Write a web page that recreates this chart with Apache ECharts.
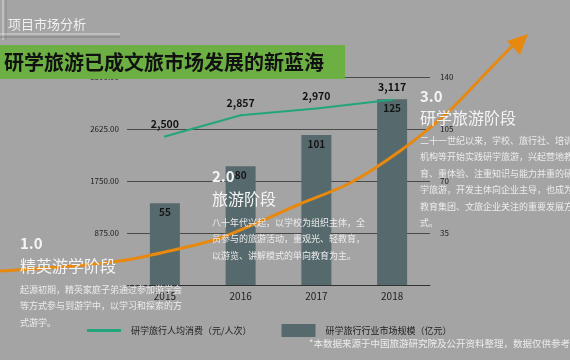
<!DOCTYPE html>
<html>
<head>
<meta charset="utf-8">
<script src="https://cdn.jsdelivr.net/npm/echarts@6/dist/echarts.min.js"></script>
<style>
html,body{margin:0;padding:0;background:#a4a4a4;}
#c{width:570px;height:360px;}
</style>
</head>
<body>
<div id="c"></div>
<script>
const years = ['2015', '2016', '2017', '2018'];
const spendPerTrip = [2500, 2857, 2970, 3117];
const marketScale = [55, 80, 101, 125];
const seriesNames = ['研学旅行人均消费（元/人次）', '研学旅行行业市场规模（亿元）'];
const pageTitle = '项目市场分析';
const bannerTitle = '研学旅游已成文旅市场发展的新蓝海';
const stages = [
  { num: '1.0', name: '精英游学阶段', desc: '起源初期，精英家庭子弟通过参加游学会\n等方式参与到游学中，以学习和探索的方\n式游学。' },
  { num: '2.0', name: '旅游阶段', desc: '八十年代兴起，以学校为组织主体，全\n员参与的旅游活动，重观光、轻教育，\n以游览、讲解模式的单向教育为主。' },
  { num: '3.0', name: '研学旅游阶段', desc: '二十一世纪以来，学校、旅行社、培训\n机构等开始实践研学旅游，兴起营地教\n育、重体验、注重知识与能力并重的研\n学旅游，开发主体向企业主导，也成为\n教育集团、文旅企业关注的重要发展方\n式。' }
];
const footnote = '*本数据来源于中国旅游研究院及公开资料整理，数据仅供参考';

const chart = echarts.init(document.getElementById('c'));
const CJK = '"Noto Sans CJK SC", "Noto Sans", sans-serif';
const white = '#f4f4f4';

const curvePts = [[0,271],[60,267],[120,261],[165,252],[220,238],[300,204],[350,183],[400,151],[447,113],[487,72],[516,42]];

const stagePos = [
  { x: 20, numY: 243, nameY: 266, descY: 281 },
  { x: 212, numY: 176, nameY: 199, descY: 214 },
  { x: 420, numY: 96, nameY: 118, descY: 132 }
];
const stageGraphics = [];
stages.forEach((s, i) => {
  const p = stagePos[i];
  stageGraphics.push({ type: 'text', x: p.x, y: p.numY, z: 110, style: { text: s.num, fill: white, font: 'bold 15px ' + CJK, textVerticalAlign: 'middle' } });
  stageGraphics.push({ type: 'text', x: p.x, y: p.nameY, z: 110, style: { text: s.name, fill: white, font: '16px ' + CJK, textVerticalAlign: 'middle' } });
  stageGraphics.push({ type: 'text', x: p.x, y: p.descY, z: 110, style: { text: s.desc, fill: '#ececec', font: '9px ' + CJK, lineHeight: 16.5 } });
});

const option = {
  backgroundColor: '#a4a4a4',
  textStyle: { fontFamily: CJK },
  grid: { left: 127, right: 140, top: 77, bottom: 75 },
  legend: {
    left: 82, top: 319, itemWidth: 34, itemHeight: 13, itemGap: 30,
    textStyle: { color: '#222', fontSize: 9, padding: [0, 0, 0, 5] },
    data: [
      { name: seriesNames[0], icon: 'path://M0,0L34,0L34,3L0,3Z' },
      { name: seriesNames[1], icon: 'rect' }
    ]
  },
  xAxis: {
    type: 'category', data: years,
    axisLine: { lineStyle: { color: '#333', width: 1 } },
    axisTick: { show: false },
    axisLabel: { color: '#222', fontSize: 10, margin: 6 }
  },
  yAxis: [
    {
      type: 'value', min: 0, max: 3500, interval: 875,
      axisLine: { show: false }, axisTick: { show: false },
      axisLabel: { color: '#222', fontSize: 8, margin: 8, showMinLabel: false, formatter: v => v.toFixed(2) },
      splitLine: { lineStyle: { color: '#4a4a4a', width: 1 } }
    },
    {
      type: 'value', min: 0, max: 140, interval: 35,
      axisLine: { show: false }, axisTick: { show: false },
      axisLabel: { color: '#222', fontSize: 8, margin: 10, showMinLabel: false },
      splitLine: { show: false }
    }
  ],
  series: [
    {
      name: seriesNames[1], type: 'bar', yAxisIndex: 1, data: marketScale, barWidth: 30,
      itemStyle: { color: '#56696d' },
      label: { show: true, position: 'insideTop', distance: 4, color: '#151515', fontSize: 10, fontWeight: 'bold' },
      z: 2
    },
    {
      name: seriesNames[0], type: 'line', yAxisIndex: 0, data: spendPerTrip,
      symbol: 'circle', symbolSize: 2, showSymbol: true,
      lineStyle: { color: '#22a57c', width: 2 }, itemStyle: { color: '#22a57c' },
      label: { show: true, position: 'top', distance: 6, color: '#111', fontSize: 10.5, fontWeight: 'bold', formatter: p => p.value.toLocaleString('en-US') },
      z: 3
    }
  ],
  graphic: [
    { type: 'line', z: 100, shape: { x1: 3, y1: 0, x2: 3, y2: 40 }, style: { stroke: '#d8d8d8', lineWidth: 1 } },
    { type: 'line', z: 100, shape: { x1: 6, y1: 0, x2: 6, y2: 40 }, style: { stroke: '#8c8c8c', lineWidth: 1 } },
    { type: 'line', z: 100, shape: { x1: 0, y1: 34, x2: 120, y2: 34 }, style: { stroke: '#d8d8d8', lineWidth: 1 } },
    { type: 'line', z: 100, shape: { x1: 0, y1: 37, x2: 120, y2: 37 }, style: { stroke: '#808080', lineWidth: 1 } },
    { type: 'text', x: 8, y: 24, z: 100, style: { text: pageTitle, fill: '#f0f0f0', font: '13px ' + CJK, textVerticalAlign: 'middle' } },
    { type: 'rect', z: 100, shape: { x: 0, y: 45, width: 345, height: 34 }, style: { fill: '#6cb044' } },
    { type: 'text', x: 4, y: 62, z: 101, style: { text: bannerTitle, fill: '#111', font: 'bold 20px ' + CJK, textVerticalAlign: 'middle' } },
    { type: 'polyline', z: 105, shape: { points: curvePts, smooth: 0.3 }, style: { stroke: '#e8890f', lineWidth: 3, fill: null } },
    { type: 'polygon', z: 105, shape: { points: [[528, 34], [520, 55], [507, 41]] }, style: { fill: '#e8890f' } },
    ...stageGraphics,
    { type: 'text', x: 309, y: 343, z: 110, style: { text: footnote, fill: '#ececec', font: '9.5px ' + CJK, textVerticalAlign: 'middle' } }
  ]
};
chart.setOption(option);
</script>
</body>
</html>
